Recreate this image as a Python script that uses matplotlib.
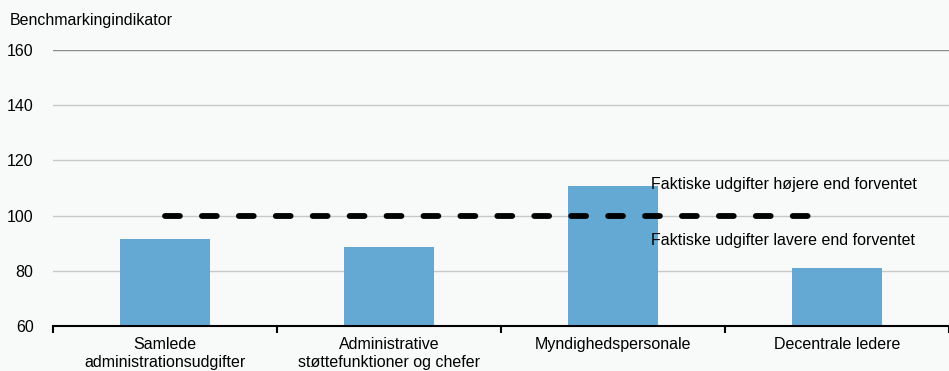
import matplotlib.pyplot as plt

plt.rcParams['font.family'] = ['Liberation Sans', 'DejaVu Sans']

categories = ['Samlede\nadministrationsudgifter',
              'Administrative\nstøttefunktioner og chefer',
              'Myndighedspersonale',
              'Decentrale ledere']
values = [91.6, 88.7, 110.7, 81.0]
ref_x = [0, 2.95]
ref_y = [100, 100]
yticks = [60, 80, 100, 120, 140, 160]

bg = '#f8f9f9'
fs = 11.5
fig = plt.figure(figsize=(9.49, 3.71), dpi=100, facecolor=bg)
ax = fig.add_axes([0.0558, 0.1213, 0.9442, 0.7439], facecolor=bg)

x = list(range(len(categories)))
ax.bar(x, values, width=0.4, color='#63a9d4', zorder=2)
ax.plot(ref_x, ref_y, color='black', linewidth=4.2, dashes=(2.55, 3.78),
        dash_capstyle='round', zorder=3)

ax.set_ylim(60, 160)
ax.set_xlim(-0.5, 3.5)
ax.set_yticks(yticks)
ax.tick_params(axis='y', length=0, labelsize=fs, pad=14)
for t in yticks[1:]:
    ax.axhline(t, color='#8c8c8c' if t == 160 else '#c8c8c8', linewidth=1, zorder=1)

ax.set_xticks([-0.5, 0.5, 1.5, 2.5, 3.5])
ax.set_xticklabels([])
ax.tick_params(axis='x', which='major', length=5, width=1.5, color='black')
ax.set_xticks(x, minor=True)
ax.set_xticklabels(categories, minor=True, fontsize=fs, linespacing=1.2)
ax.tick_params(axis='x', which='minor', length=0, pad=8)

for s in ['top', 'right', 'left']:
    ax.spines[s].set_visible(False)
ax.spines['bottom'].set_linewidth(1.5)

ax.text(2.17, 111.2, 'Faktiske udgifter højere end forventet', fontsize=fs,
        va='center', ha='left', zorder=4)
ax.text(2.17, 90.8, 'Faktiske udgifter lavere end forventet', fontsize=fs,
        va='center', ha='left', zorder=4)

fig.text(10 / 949, 1 - 20 / 371, 'Benchmarkingindikator', fontsize=fs, va='center', ha='left')

fig.savefig('out.png', dpi=100, facecolor=bg)
